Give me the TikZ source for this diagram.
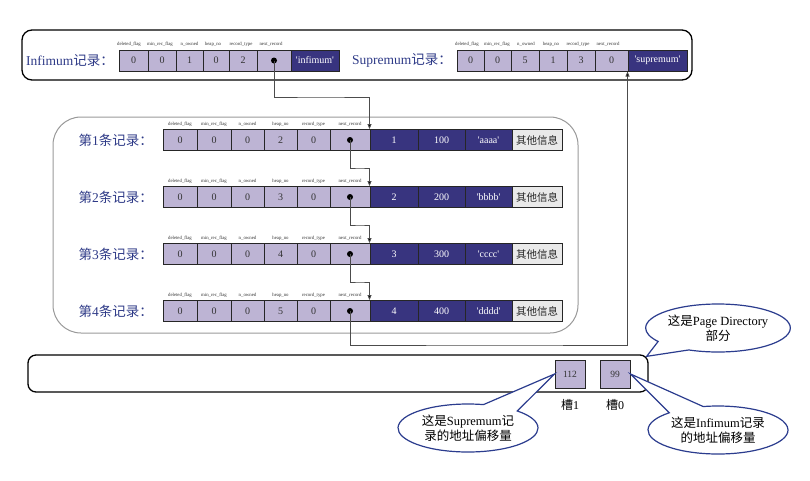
\documentclass[tikz,border=0pt]{standalone}
\usepackage{fontspec}
\setmainfont{Liberation Serif}
\newfontfamily\cjk{Noto Sans CJK SC}
\usetikzlibrary{shapes.callouts,arrows.meta,calc}
\definecolor{lav}{HTML}{BDB4D4}
\definecolor{navy}{HTML}{38347F}
\definecolor{lblue}{HTML}{2E3A87}
\definecolor{cblue}{HTML}{2B3C8E}
\definecolor{ginfo}{HTML}{E9E9E9}
\newcommand\mkcell[6]{\node[cellbase,#5,minimum width={(#3-#2)*1pt}] (#1) at ({(#2+#3)/2},#4) {#6};}
\tikzset{
  cellbase/.style={draw=black!85, line width=1pt, minimum height=21pt, inner sep=0pt, font=\fontsize{10}{11}\selectfont},
  cl/.style={fill=lav, text=black!80},
  cd/.style={fill=navy, text=white},
  cg/.style={fill=ginfo, text=black!85, font=\cjk\fontsize{10.5}{11}\selectfont},
  fl/.style={font=\fontsize{4.8}{5}\selectfont, inner sep=0pt, text=black!80},
  rlab/.style={anchor=east, text=lblue, font=\fontsize{13.5}{15}\selectfont, inner sep=0pt},
  conn/.style={draw=black!70, line width=0.8pt},
  tip/.style={-{Triangle[length=5pt,width=4pt,fill=black]}},
  call/.style={ellipse callout, draw=cblue, line width=1.2pt, fill=white, align=center,
    minimum width=140pt, minimum height=48pt, inner sep=1pt, callout pointer arc=32,
    font=\fontsize{12.5}{14.5}\selectfont},
  dotc/.style={fill=black}
}
\begin{document}
\begin{tikzpicture}[x=1pt,y=-1pt]
\useasboundingbox (0,0) rectangle (810,480);
% containers
\draw[line width=1.3pt, rounded corners=10pt] (22,30) rectangle (692,80);
\node[inner sep=0pt] (topbox) at (357,55) {};
\draw[draw=black!40, line width=1pt, rounded corners=28pt] (53,117) rectangle (578,333);
\node[draw, line width=1.3pt, rounded corners=8pt, minimum width=620pt, minimum height=37pt, inner sep=0pt] (bot) at (338,373.5) {};

% Infimum
\node[rlab] (linf) at (114,60.5) {Infimum{\cjk 记录：}};
\def\ny{60.5}\def\fy{44}
\mkcell{inf1}{119}{148}{\ny}{cl}{0}
\mkcell{inf2}{148}{176}{\ny}{cl}{0}
\mkcell{inf3}{176}{203}{\ny}{cl}{1}
\mkcell{inf4}{203}{229}{\ny}{cl}{0}
\mkcell{inf5}{229}{257}{\ny}{cl}{2}
\mkcell{inf6}{257}{291}{\ny}{cl}{}
\mkcell{inf7}{291}{339}{\ny}{cd}{\textquotesingle infimum\textquotesingle}
\node[fl] (if1) at (129,\fy) {deleted\_flag};
\node[fl] (if2) at (160,\fy) {min\_rec\_flag};
\node[fl] (if3) at (189.5,\fy) {n\_owned};
\node[fl] (if4) at (213,\fy) {heap\_no};
\node[fl] (if5) at (241,\fy) {record\_type};
\node[fl] (if6) at (271,\fy) {next\_record};
\fill[dotc] (inf6.center) circle (3pt);

% Supremum
\node[rlab] (lsup) at (452,60.5) {Supremum{\cjk 记录：}};
\mkcell{sup1}{457}{484}{\ny}{cl}{0}
\mkcell{sup2}{484}{511}{\ny}{cl}{0}
\mkcell{sup3}{511}{539}{\ny}{cl}{5}
\mkcell{sup4}{539}{567}{\ny}{cl}{1}
\mkcell{sup5}{567}{595}{\ny}{cl}{3}
\mkcell{sup6}{595}{628}{\ny}{cl}{0}
\mkcell{sup7}{628}{687}{\ny}{cd}{\textquotesingle supremum\textquotesingle}
\node[fl] (sf1) at (467,\fy) {deleted\_flag};
\node[fl] (sf2) at (497,\fy) {min\_rec\_flag};
\node[fl] (sf3) at (526,\fy) {n\_owned};
\node[fl] (sf4) at (551,\fy) {heap\_no};
\node[fl] (sf5) at (578,\fy) {record\_type};
\node[fl] (sf6) at (608,\fy) {next\_record};

% records
\foreach \r/\y/\h/\a/\b/\c in {1/140/2/1/100/aaaa, 2/197/3/2/200/bbbb, 3/254/4/3/300/cccc, 4/311/5/4/400/dddd}{
  \node[rlab] (lab\r) at (153,\y) {{\cjk 第}\r{\cjk 条记录：}};
  \mkcell{r\r c1}{163}{197}{\y}{cl}{0}
  \mkcell{r\r c2}{197}{231}{\y}{cl}{0}
  \mkcell{r\r c3}{231}{264}{\y}{cl}{0}
  \mkcell{r\r c4}{264}{297}{\y}{cl}{\h}
  \mkcell{r\r c5}{297}{330}{\y}{cl}{0}
  \mkcell{r\r c6}{330}{370}{\y}{cl}{}
  \mkcell{r\r c7}{370}{418}{\y}{cd}{\a}
  \mkcell{r\r c8}{418}{465}{\y}{cd}{\b}
  \mkcell{r\r c9}{465}{512}{\y}{cd}{\textquotesingle\c\textquotesingle}
  \mkcell{r\r c10}{512}{562}{\y}{cg}{其他信息}
  \fill[dotc] (r\r c6.center) circle (3pt);
  \node[fl] (r\r f1) at (180,\y-16) {deleted\_flag};
  \node[fl] (r\r f2) at (214,\y-16) {min\_rec\_flag};
  \node[fl] (r\r f3) at (247.5,\y-16) {n\_owned};
  \node[fl] (r\r f4) at (280.5,\y-16) {heap\_no};
  \node[fl] (r\r f5) at (313.5,\y-16) {record\_type};
  \node[fl] (r\r f6) at (350,\y-16) {next\_record};
}

% connectors
\coordinate (k0) at (320,97);
\coordinate (k1) at (360,168);
\coordinate (k2) at (360,225);
\coordinate (k3) at (360,282);
\coordinate (k4) at (500,345);
\draw[conn,tip] (inf6.center) |- (k0) -| (r1c7.north west);
\draw[conn,tip] (r1c6.center) |- (k1) -| (r2c7.north west);
\draw[conn,tip] (r2c6.center) |- (k2) -| (r3c7.north west);
\draw[conn,tip] (r3c6.center) |- (k3) -| (r4c7.north west);
\draw[conn,tip] (r4c6.center) |- (k4) -| (sup7.south west);

% page directory slots
\node[draw=black!85, line width=1pt, fill=lav, minimum width=30pt, minimum height=28pt, inner sep=0pt, font=\fontsize{9.5}{10}\selectfont, text=black!80] (s1) at (570,374) {112};
\node[draw=black!85, line width=1pt, fill=lav, minimum width=30pt, minimum height=28pt, inner sep=0pt, font=\fontsize{9.5}{10}\selectfont, text=black!80] (s0) at (615,374) {99};
\node[font=\fontsize{12}{14}\selectfont, inner sep=0pt] (t1) at (570,405) {{\cjk 槽}1};
\node[font=\fontsize{12}{14}\selectfont, inner sep=0pt] (t0) at (615,405) {{\cjk 槽}0};

% callouts
\node[call, callout absolute pointer={($(bot.north east)+(-2,2)$)}] (cpd) at (718,328) {{\cjk 这是}Page Directory\\{\cjk 部分}};
\node[call, callout absolute pointer={(s0.east)}] (cinf) at (718,430) {{\cjk 这是}Infimum{\cjk 记录}\\{\cjk 的地址偏移量}};
\node[call, callout absolute pointer={(s1.west)}] (csup) at (468,428) {{\cjk 这是}Supremum{\cjk 记}\\{\cjk 录的地址偏移量}};
\end{tikzpicture}
\end{document}
